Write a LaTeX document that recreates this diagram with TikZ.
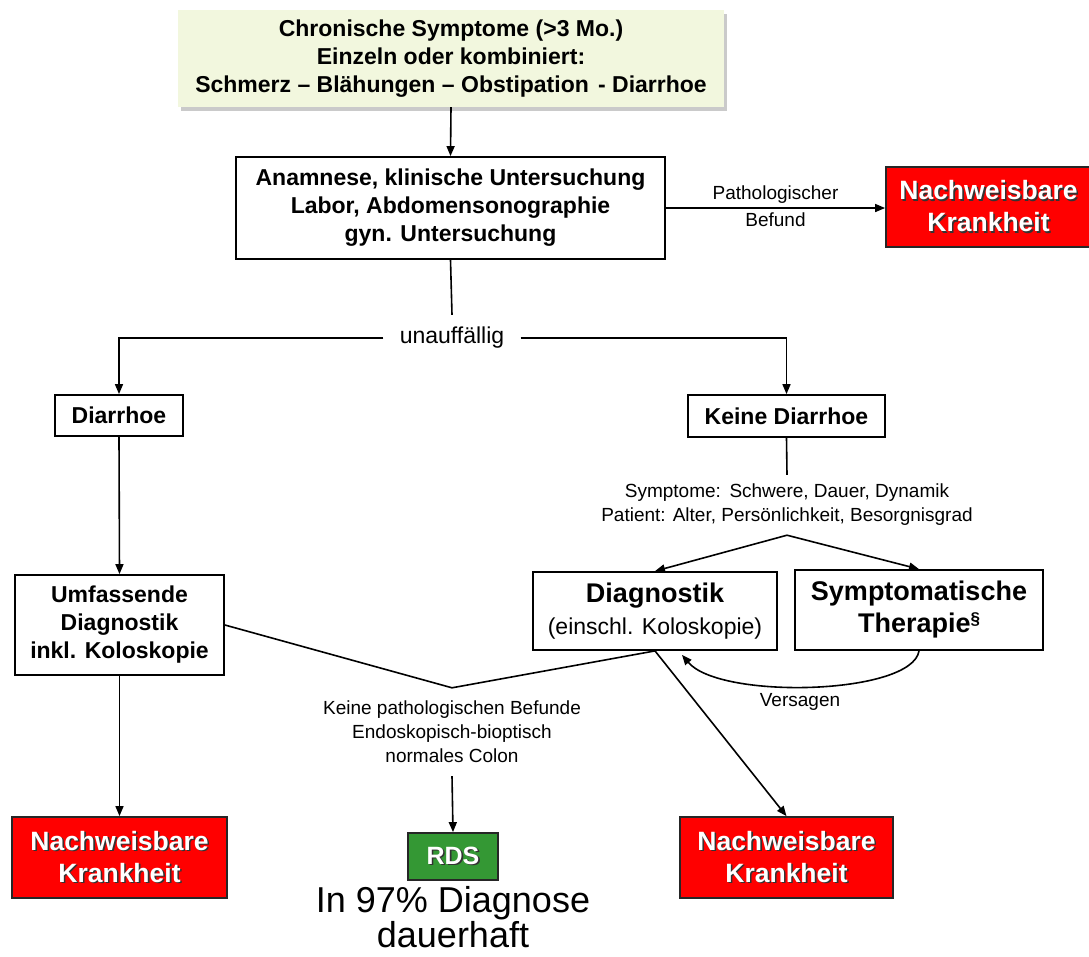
\documentclass[tikz,border=0pt]{standalone}
\usepackage{fontspec}
\setmainfont{Liberation Sans}
\usetikzlibrary{arrows.meta,shadows,calc}
\definecolor{topfill}{RGB}{242,247,222}
\definecolor{krank}{RGB}{255,0,0}
\definecolor{rdsgreen}{RGB}{52,152,52}
% white text with a dark drop shadow
\newcommand\shtext[1]{\rlap{\kern1.6pt\raisebox{-1.6pt}{\textcolor{black!80}{#1}}}#1}
\newcommand\fs[2]{\fontsize{#1}{#2}\selectfont}
\begin{document}
\begin{tikzpicture}[x=1pt,y=-1pt,
  box/.style={draw=black, line width=1.8pt, fill=white, align=center,
    inner sep=0pt, font=\bfseries\fs{23}{28}},
  krankbox/.style={draw=black!85, line width=1.8pt, fill=krank, text=white,
    align=center, inner sep=0pt, font=\bfseries\fs{26.5}{32}},
  arr/.style={-{Triangle[length=10pt,width=8pt]}, line width=1.6pt},
  plain/.style={line width=1.6pt},
  lbl/.style={align=center, inner sep=0pt, font=\fs{19}{24}}]
\useasboundingbox (0,0) rectangle (1089,956);

% boxes
\node[align=center, inner sep=0pt, fill=topfill, minimum width=546, minimum height=97,
  font=\bfseries\fs{23}{28},
  drop shadow={shadow xshift=3pt, shadow yshift=-4pt, opacity=0.35, fill=black!60}]
  (top) at (451,58.5)
  {Chronische Symptome (>3 Mo.)\\Einzeln oder kombiniert:\\Schmerz – Blähungen – Obstipation\hspace{0.4em}- Diarrhoe};

\node[box, minimum width=429, minimum height=102] (anam) at (450.5,208)
  {Anamnese, klinische Untersuchung\\Labor, Abdomensonographie\\gyn. Untersuchung};

\node[krankbox, minimum width=205, minimum height=80] (nk1) at (988.5,207)
  {\shtext{Nachweisbare}\\\shtext{Krankheit}};

\node[inner sep=0pt, minimum width=137, minimum height=46, font=\fs{23}{28}]
  (unauf) at (452,338) {unauffällig};

\node[box, minimum width=128, minimum height=41] (diar) at (119,415.5) {Diarrhoe};
\node[box, minimum width=197, minimum height=42] (keine) at (786.5,416) {Keine Diarrhoe};

\node[lbl, font=\fs{19}{24}, minimum height=60] (crit) at (787,505)
  {Symptome:\hspace{0.45em}Schwere, Dauer, Dynamik\\Patient: Alter, Persönlichkeit, Besorgnisgrad};

\node[box, minimum width=209, minimum height=100] (umf) at (119.5,625)
  {Umfassende\\Diagnostik\\inkl. Koloskopie};

\node[box, minimum width=244, minimum height=78, font=\fs{23}{32}] (diag) at (655,611)
  {{\bfseries\fs{27}{32}Diagnostik}\\(einschl. Koloskopie)};

\node[box, minimum width=248, minimum height=80, font=\bfseries\fs{27}{32}] (symp) at (919,610)
  {Symptomatische\\Therapie\raisebox{0.3em}{\fs{17}{17}§}};

\node[lbl, minimum height=88] (kpb) at (452,732)
  {Keine pathologischen Befunde\\Endoskopisch-bioptisch\\normales Colon};

\node[lbl] (vers) at (800,702) {Versagen};

\node[krankbox, minimum width=215, minimum height=81] (nk2) at (119.5,857.5)
  {\shtext{Nachweisbare}\\\shtext{Krankheit}};
\node[krankbox, fill=rdsgreen, minimum width=90, minimum height=47, font=\bfseries\fs{25}{28}]
  (rds) at (453,856.5) {\shtext{RDS}};
\node[krankbox, minimum width=213, minimum height=81] (nk3) at (786.5,857.5)
  {\shtext{Nachweisbare}\\\shtext{Krankheit}};

\node[align=center, inner sep=0pt, font=\fs{36}{33}] (pct) at (453,917)
  {In 97\% Diagnose\\dauerhaft};

% connectors
\draw[arr] (top.south) -- (anam.north);
\draw[arr] (anam.east) -- node[lbl, above=4pt]{Pathologischer} node[lbl, below=4pt]{Befund}
  (anam.east -| nk1.west);
\draw[plain] (anam.south) -- (unauf.north);
\draw[arr] (unauf.west) -| (diar.north);
\draw[arr] (unauf.east) -| (keine.north);
\draw[plain] (keine.south) -- (crit.north);
\draw[arr] (crit.south) -- (diag.north);
\draw[arr] (crit.south) -- (symp.north);
\draw[arr] (diar.south) -- (umf.north);
\draw[arr] (umf.south) -- (nk2.north);
\draw[plain] (umf.east) -- (kpb.north) -- (diag.south);
\draw[arr] (kpb.south) -- (rds.north);
\draw[arr] (diag.south) -- (nk3.north);
\draw[arr] (symp.south) .. controls (912,695) and (720,700) .. ($(diag.south)+(27,4)$);
\end{tikzpicture}
\end{document}
